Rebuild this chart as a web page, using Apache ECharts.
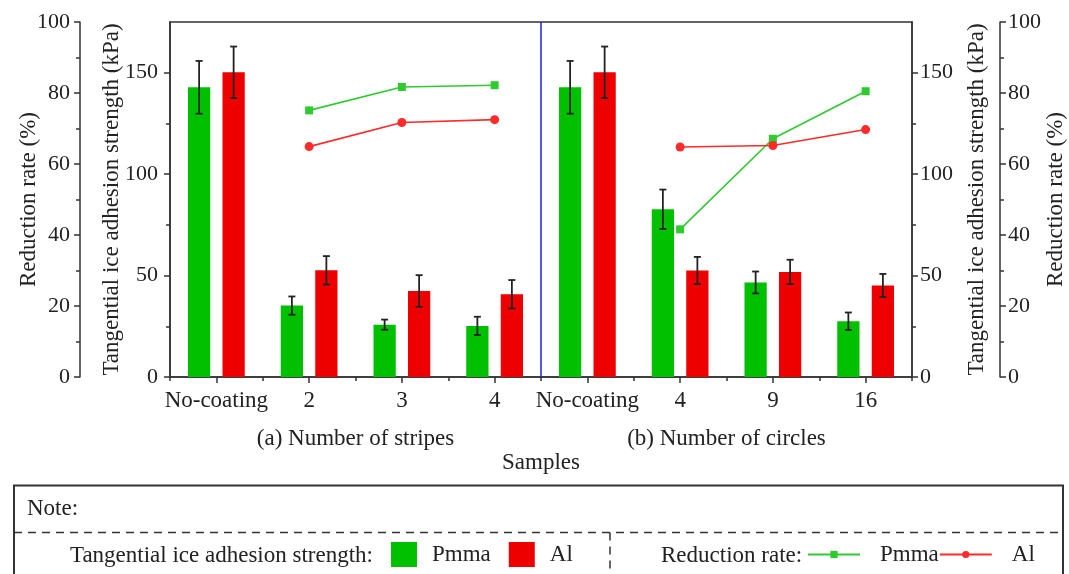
<!DOCTYPE html>
<html>
<head>
<meta charset="utf-8">
<script src="https://cdn.jsdelivr.net/npm/echarts@6/dist/echarts.min.js"></script>
<style>html,body{margin:0;padding:0;background:#fff}#c{width:1069px;height:574px}</style>
</head>
<body>
<div id="c"></div>
<script>
// ---- data ----
const categories = ['No-coating', '2', '3', '4', 'No-coating', '4', '9', '16'];
const groupLabels = ['(a) Number of stripes', '(b) Number of circles'];
const pmmaStrength = [142.8, 35.2, 25.8, 25.2, 142.8, 82.7, 46.6, 27.5];
const pmmaStrengthErr = [13.0, 4.5, 2.5, 4.5, 13.0, 9.7, 5.4, 4.3];
const alStrength = [150.2, 52.6, 42.4, 40.8, 150.2, 52.5, 51.8, 45.1];
const alStrengthErr = [12.7, 7.0, 7.8, 7.0, 12.7, 6.7, 6.0, 5.7];
const pmmaRate = [null, 75.1, 81.7, 82.2, null, 41.6, 67.1, 80.5];
const alRate = [null, 64.9, 71.7, 72.5, null, 64.8, 65.2, 69.7];
const kpaTicks = [0, 50, 100, 150];
const kpaMinorTicks = [25, 75, 125];
const dividerAt = 4; // boundary between the two groups (in category units)

// ---- style ----
const FONT = 'Liberation Serif';
const TXT = '#222';
const AX = '#333';
const FS = 23;      // general text
const FST = 22;     // y tick labels
const GREEN_BAR = '#00c000';
const RED_BAR = '#ee0000';
const GREEN_LINE = '#2ecb2e';
const RED_LINE = '#ff2b2b';
const BAR_W = 0.24, BAR_GAP = 0.55;
const SHIFT = (BAR_W + BAR_W * BAR_GAP) / 2;

const chart = echarts.init(document.getElementById('c'), null, {renderer: 'canvas'});

function errSeries(name, vals, errs, shift) {
  return {
    type: 'custom', name: name, xAxisIndex: 0, yAxisIndex: 0, z: 5, silent: true,
    data: vals.map((v, i) => [i, v, errs[i]]),
    encode: {x: 0, y: 1},
    renderItem: function (params, api) {
      const i = api.value(0), v = api.value(1), e = api.value(2);
      const band = api.size([1, 0])[0];
      const top = api.coord([i, v + e]);
      const bot = api.coord([i, v - e]);
      const x = top[0] + shift * band;
      const cap = 3.5;
      const st = {stroke: '#222', lineWidth: 1.8};
      return {type: 'group', children: [
        {type: 'line', shape: {x1: x, y1: top[1], x2: x, y2: bot[1]}, style: st},
        {type: 'line', shape: {x1: x - cap, y1: top[1], x2: x + cap, y2: top[1]}, style: st},
        {type: 'line', shape: {x1: x - cap, y1: bot[1], x2: x + cap, y2: bot[1]}, style: st}
      ]};
    }
  };
}

function kpaAxis(pos, withLabel) {
  return {
    type: 'value', position: pos, offset: 0, min: 0, max: 175, interval: 25,
    axisLine: {show: withLabel, lineStyle: {color: AX, width: 1.5}},
    axisTick: {show: true, inside: false, length: withLabel ? 6 : 4,
      customValues: withLabel ? kpaTicks : kpaMinorTicks, lineStyle: {color: AX, width: 1.5}},
    axisLabel: {show: withLabel, customValues: kpaTicks, fontSize: FST, color: TXT, fontFamily: FONT,
      margin: pos === 'left' ? 12 : 8,
      formatter: v => (kpaTicks.indexOf(v) >= 0 ? String(v) : '')},
    splitLine: {show: false},
    name: withLabel ? 'Tangential ice adhesion strength (kPa)' : '',
    nameLocation: 'middle', nameRotate: 90, nameMoveOverlap: false,
    nameGap: pos === 'left' ? 47 : 53,
    nameTextStyle: {fontSize: FS, color: TXT, fontFamily: FONT}
  };
}

function rateAxis(pos, offset, labelMargin, nameGap) {
  return {
    type: 'value', position: pos, offset: offset, min: 0, max: 100, interval: 20,
    axisLine: {show: true, lineStyle: {color: AX, width: 1.5}},
    axisTick: {show: true, inside: false, length: 6, lineStyle: {color: AX, width: 1.5}},
    minorTick: {show: true, splitNumber: 2, length: 4, lineStyle: {color: AX, width: 1.5}},
    axisLabel: {fontSize: FST, color: TXT, fontFamily: FONT, margin: labelMargin},
    splitLine: {show: false},
    name: 'Reduction rate (%)', nameLocation: 'middle', nameRotate: 90, nameGap: nameGap,
    nameMoveOverlap: false,
    nameTextStyle: {fontSize: FS, color: TXT, fontFamily: FONT}
  };
}

const option = {
  animation: false,
  backgroundColor: '#fff',
  textStyle: {fontFamily: FONT, color: TXT},
  grid: {left: 170, right: 157, top: 22, bottom: 197, show: true, borderColor: AX, borderWidth: 1.5,
    containLabel: false, outerBoundsMode: 'none'},
  xAxis: [
    {
      type: 'category', data: categories, position: 'bottom',
      axisLine: {show: true, lineStyle: {color: AX, width: 1.5}},
      axisTick: {show: true, alignWithLabel: true, inside: false, length: 6, lineStyle: {color: AX, width: 1.5}},
      axisLabel: {fontSize: FS, color: TXT, fontFamily: FONT, margin: 12, interval: 0},
      name: 'Samples', nameLocation: 'middle', nameGap: 74, nameMoveOverlap: false,
      nameTextStyle: {fontSize: FS, color: TXT, fontFamily: FONT}
    },
    {
      type: 'category', data: categories, position: 'bottom',
      axisLine: {show: false},
      axisTick: {show: true, alignWithLabel: false, inside: false, length: 4, interval: 0, lineStyle: {color: AX, width: 1.5}},
      axisLabel: {show: false}
    },
    {
      type: 'category', data: groupLabels, position: 'bottom',
      axisLine: {show: false}, axisTick: {show: false},
      axisLabel: {fontSize: FS, color: TXT, fontFamily: FONT, margin: 50, interval: 0}
    },
    {type: 'value', min: 0, max: categories.length, show: false}
  ],
  yAxis: [
    kpaAxis('left', true),
    kpaAxis('left', false),
    rateAxis('left', 90, 10, 40),
    kpaAxis('right', true),
    kpaAxis('right', false),
    rateAxis('right', 88, 8, 44)
  ],
  legend: [
    {
      data: ['Pmma (strength)', 'Al (strength)'], left: 391, top: 542, padding: 0,
      orient: 'horizontal', icon: 'rect', itemWidth: 26, itemHeight: 25, itemGap: 18,
      formatter: n => n.split(' ')[0],
      textStyle: {fontSize: FS, color: TXT, fontFamily: FONT, padding: [0, 0, 0, 10]},
      selectedMode: false
    },
    {
      data: ['Pmma (rate)', 'Al (rate)'], left: 807, top: 543, padding: 0,
      orient: 'horizontal', itemWidth: 52, itemHeight: 9, itemGap: 0,
      formatter: n => n.split(' ')[0],
      textStyle: {fontSize: FS, color: TXT, fontFamily: FONT, padding: [0, 0, 0, 15]},
      selectedMode: false
    }
  ],
  graphic: [
    {type: 'rect', silent: true, shape: {x: 14, y: 485.5, width: 1049, height: 140},
      style: {fill: 'none', stroke: AX, lineWidth: 2}},
    {type: 'line', silent: true, shape: {x1: 14, y1: 532.5, x2: 1063, y2: 532.5},
      style: {stroke: AX, lineWidth: 1.5, lineDash: [8, 6]}},
    {type: 'line', silent: true, shape: {x1: 610, y1: 532.5, x2: 610, y2: 580},
      style: {stroke: AX, lineWidth: 1.5, lineDash: [8, 6]}},
    {type: 'text', silent: true, x: 27, y: 509,
      style: {text: 'Note:', fontSize: FS, fontFamily: FONT, fill: TXT, align: 'left', verticalAlign: 'middle'}},
    {type: 'text', silent: true, x: 373, y: 556,
      style: {text: 'Tangential ice adhesion strength:', fontSize: FS, fontFamily: FONT, fill: TXT, align: 'right', verticalAlign: 'middle'}},
    {type: 'text', silent: true, x: 661, y: 556,
      style: {text: 'Reduction rate:', fontSize: FS, fontFamily: FONT, fill: TXT, align: 'left', verticalAlign: 'middle'}}
  ],
  series: [
    {name: 'Pmma (strength)', type: 'bar', xAxisIndex: 0, yAxisIndex: 0, data: pmmaStrength,
      barWidth: (BAR_W * 100) + '%', barGap: (BAR_GAP * 100) + '%', itemStyle: {color: GREEN_BAR}},
    {name: 'Al (strength)', type: 'bar', xAxisIndex: 0, yAxisIndex: 0, data: alStrength,
      barWidth: (BAR_W * 100) + '%', barGap: (BAR_GAP * 100) + '%', itemStyle: {color: RED_BAR}},
    errSeries('Pmma err', pmmaStrength, pmmaStrengthErr, -SHIFT),
    errSeries('Al err', alStrength, alStrengthErr, SHIFT),
    {name: 'Pmma (rate)', type: 'line', xAxisIndex: 0, yAxisIndex: 2, data: pmmaRate, z: 6,
      symbol: 'rect', symbolSize: 8, connectNulls: false,
      lineStyle: {color: GREEN_LINE, width: 1.6}, itemStyle: {color: GREEN_LINE}},
    {name: 'Al (rate)', type: 'line', xAxisIndex: 0, yAxisIndex: 2, data: alRate, z: 6,
      symbol: 'circle', symbolSize: 9, connectNulls: false,
      lineStyle: {color: RED_LINE, width: 1.6}, itemStyle: {color: RED_LINE}},
    {name: 'divider', type: 'line', xAxisIndex: 3, yAxisIndex: 0, silent: true, z: 4,
      data: [[dividerAt, 0], [dividerAt, 175]], symbol: 'none',
      lineStyle: {color: '#2020e0', width: 1.5}}
  ]
};
chart.setOption(option);
</script>
</body>
</html>
